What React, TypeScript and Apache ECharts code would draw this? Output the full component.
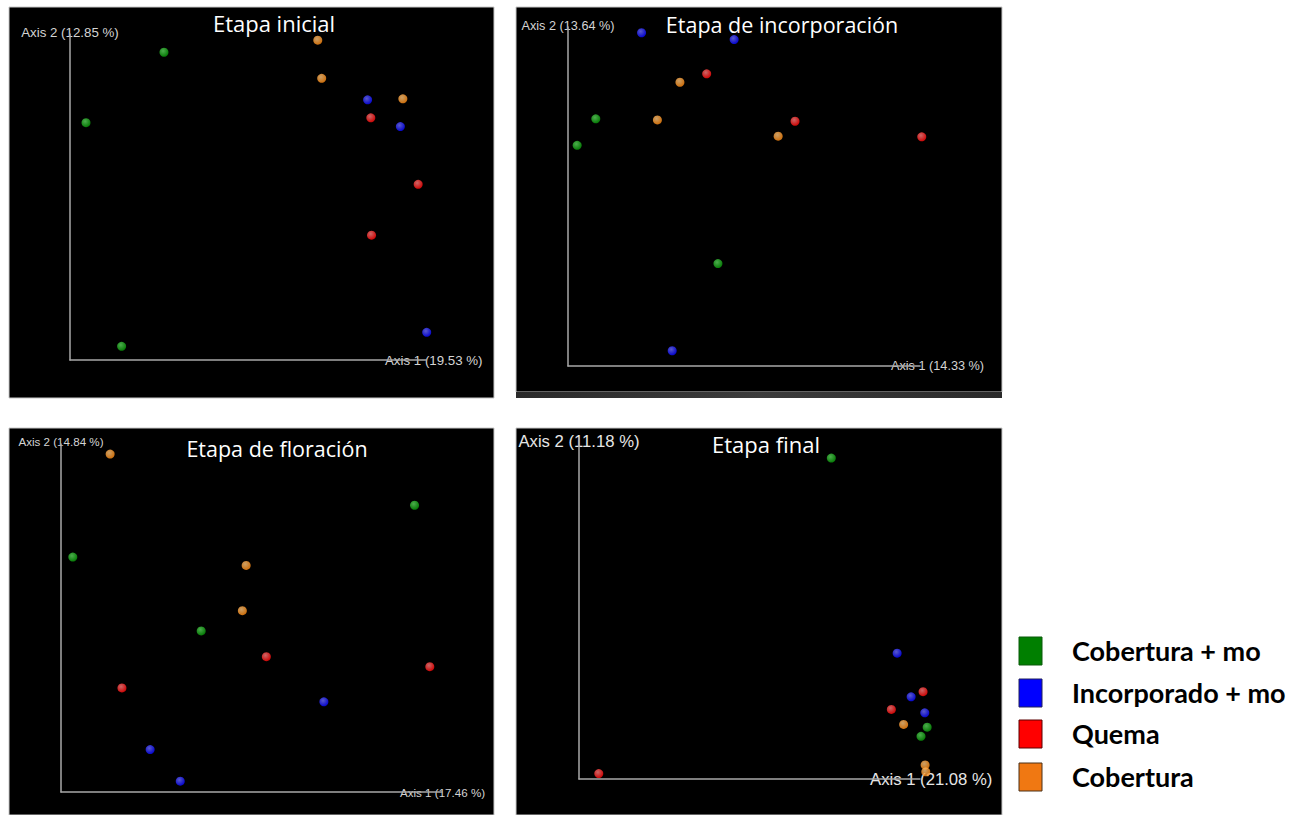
import React, { useEffect, useRef } from "react";
import * as echarts from "echarts";

// Groups (legend)
const groups = ["Cobertura + mo", "Incorporado + mo", "Quema", "Cobertura"];
const stageTitles = ["Etapa inicial", "Etapa de incorporación", "Etapa de floración", "Etapa final"];
const axis1Names = ["Axis 1 (19.53 %)", "Axis 1 (14.33 %)", "Axis 1 (17.46 %)", "Axis 1 (21.08 %)"];
const axis2Names = ["Axis 2 (12.85 %)", "Axis 2 (13.64 %)", "Axis 2 (14.84 %)", "Axis 2 (11.18 %)"];

// PCoA coordinates (relative units, % of the drawn axis length)
// Etapa inicial
const inicialCobMo = [[26.4, 94.4], [4.5, 72.8], [14.5, 4.2]];
const inicialIncMo = [[83.6, 79.8], [92.8, 71.6], [100.2, 8.5]];
const inicialQuema = [[84.5, 74.3], [97.8, 53.9], [84.7, 38.3]];
const inicialCob = [[69.6, 98.1], [70.7, 86.4], [93.5, 80.1]];
// Etapa de incorporación
const incorpCobMo = [[7.9, 72.9], [2.6, 65.1], [42.6, 30.2]];
const incorpIncMo = [[20.9, 98.3], [47.2, 96.3], [29.6, 4.5]];
const incorpQuema = [[39.4, 86.2], [64.5, 72.2], [100.5, 67.6]];
const incorpCob = [[31.8, 83.7], [25.4, 72.6], [59.7, 67.8]];
// Etapa de floración
const florCobMo = [[3.1, 67.5], [92.8, 82.4], [36.8, 46.3]];
const florIncMo = [[23.4, 12.2], [31.3, 3.1], [69.0, 25.9]];
const florQuema = [[16.0, 29.9], [53.9, 38.9], [96.8, 36.0]];
const florCob = [[12.9, 97.1], [48.6, 65.1], [47.6, 52.1]];
// Etapa final
const finalCobMo = [[74.0, 94.1], [102.1, 15.2], [100.3, 12.5]];
const finalIncMo = [[93.3, 36.9], [97.4, 24.1], [101.4, 19.4]];
const finalQuema = [[100.9, 25.6], [91.6, 20.4], [5.8, 1.6]];
const finalCob = [[95.2, 16.0], [101.5, 4.1], [101.7, 2.1]];

const stageData = [
  [inicialCobMo, inicialIncMo, inicialQuema, inicialCob],
  [incorpCobMo, incorpIncMo, incorpQuema, incorpCob],
  [florCobMo, florIncMo, florQuema, florCob],
  [finalCobMo, finalIncMo, finalQuema, finalCob],
];

const pointColors = ["#089808", "#0808ff", "#ff0808", "#ff8a10"];
const pointLight = ["#60d860", "#7070ff", "#ff8080", "#ffc880"];
const legendColors = ["#007f00", "#0000ff", "#ff0000", "#f07812"];
const legendBorders = ["#0a5a0a", "#20205a", "#5a0000", "#4a3018"];

// Layout
const panelRects = [
  { x: 9, y: 7, w: 485, h: 391 },
  { x: 516, y: 7, w: 486, h: 385 },
  { x: 9, y: 428, w: 485, h: 387 },
  { x: 516, y: 428, w: 486, h: 387 },
];
const grids = [
  { left: 70, top: 34, width: 356, height: 326 },
  { left: 568, top: 27, width: 352, height: 339 },
  { left: 61, top: 444, width: 381, height: 348 },
  { left: 579, top: 438, width: 341, height: 341 },
];
const titlePos = [
  [274, 23],
  [782, 24],
  [277, 448],
  [766, 444],
];
const titleFont = [22, 21.5, 21.5, 22];
const nameFont = [13.3, 12.7, 11.6, 16.7];
const xNameGap = [-41, -29, -42, -50];
const yNameGap = [2, 1, 3, -3];
const legendTop = [637, 679, 720, 763];

export default function App() {
  const ref = useRef<HTMLDivElement>(null);
  useEffect(() => {
    if (!ref.current) return;
    const chart = echarts.init(ref.current, undefined, { renderer: "svg" });

    const graphics: any[] = [];
    panelRects.forEach((r) => {
      graphics.push({
        type: "rect",
        z: -10,
        shape: { x: r.x, y: r.y, width: r.w, height: r.h },
        style: { fill: "#000", stroke: "#c8c8c8", lineWidth: 1 },
      });
    });
    graphics.push({
      type: "rect",
      z: -9,
      shape: { x: 516, y: 392, width: 486, height: 6 },
      style: {
        fill: new echarts.graphic.LinearGradient(0, 0, 1, 0, [
          { offset: 0, color: "#2a2a2a" },
          { offset: 0.5, color: "#3c3c3c" },
          { offset: 1, color: "#2a2a2a" },
        ]),
      },
    });
    stageTitles.forEach((t, i) => {
      graphics.push({
        type: "text",
        z: 50,
        x: titlePos[i][0],
        y: titlePos[i][1],
        style: {
          text: t,
          fill: "#ffffff",
          font: `${titleFont[i]}px "Open Sans"`,
          align: "center",
          verticalAlign: "middle",
        },
      });
    });
    // legend
    groups.forEach((n, i) => {
      graphics.push({
        type: "rect",
        z: 50,
        shape: { x: 1019, y: legendTop[i], width: 23, height: 28 },
        style: { fill: legendColors[i], stroke: legendBorders[i], lineWidth: 1 },
      });
      graphics.push({
        type: "text",
        z: 50,
        x: 1072,
        y: legendTop[i] + 13,
        style: {
          text: n,
          fill: "#000",
          font: 'bold 27px "Lato"',
          align: "left",
          verticalAlign: "middle",
        },
      });
    });

    const xAxes = grids.map((g, i) => ({
      type: "value",
      gridIndex: i,
      min: 0,
      max: 100,
      axisLine: { show: true, lineStyle: { color: "#a8a8a8", width: 1.5 } },
      axisTick: { show: false },
      axisLabel: { show: false },
      splitLine: { show: false },
      name: axis1Names[i],
      nameLocation: "end",
      nameGap: xNameGap[i],
      nameTextStyle: {
        color: i === 3 ? "#e6e6e6" : "#d4d4d4",
        fontSize: nameFont[i],
        fontFamily: "Liberation Sans",
        align: "left",
        verticalAlign: "middle",
      },
    }));
    const yAxes = grids.map((g, i) => ({
      type: "value",
      gridIndex: i,
      min: 0,
      max: 100,
      axisLine: { show: true, lineStyle: { color: "#a8a8a8", width: 1.5 } },
      axisTick: { show: false },
      axisLabel: { show: false },
      splitLine: { show: false },
      name: axis2Names[i],
      nameLocation: "end",
      nameGap: yNameGap[i],
      nameTextStyle: {
        color: i === 3 ? "#e6e6e6" : "#d4d4d4",
        fontSize: nameFont[i],
        fontFamily: "Liberation Sans",
        align: "center",
        verticalAlign: "middle",
      },
    }));

    const series: any[] = [];
    stageData.forEach((stage, p) => {
      stage.forEach((pts, g) => {
        series.push({
          type: "scatter",
          name: groups[g],
          xAxisIndex: p,
          yAxisIndex: p,
          data: pts,
          symbol: "circle",
          symbolSize: 9,
          clip: false,
          z: 5,
          itemStyle: {
            color: new echarts.graphic.RadialGradient(0.4, 0.35, 0.65, [
              { offset: 0, color: pointLight[g] },
              { offset: 1, color: pointColors[g] },
            ]),
          },
        });
      });
    });

    chart.setOption({
      animation: false,
      backgroundColor: "#ffffff",
      grid: grids.map((g) => ({ ...g, containLabel: false })),
      xAxis: xAxes,
      yAxis: yAxes,
      graphic: graphics,
      series,
    });
    return () => chart.dispose();
  }, []);
  return (
    <div
      ref={ref}
      style={{ position: "fixed", left: 0, top: 0, width: 1301, height: 815, background: "#fff" }}
    />
  );
}
